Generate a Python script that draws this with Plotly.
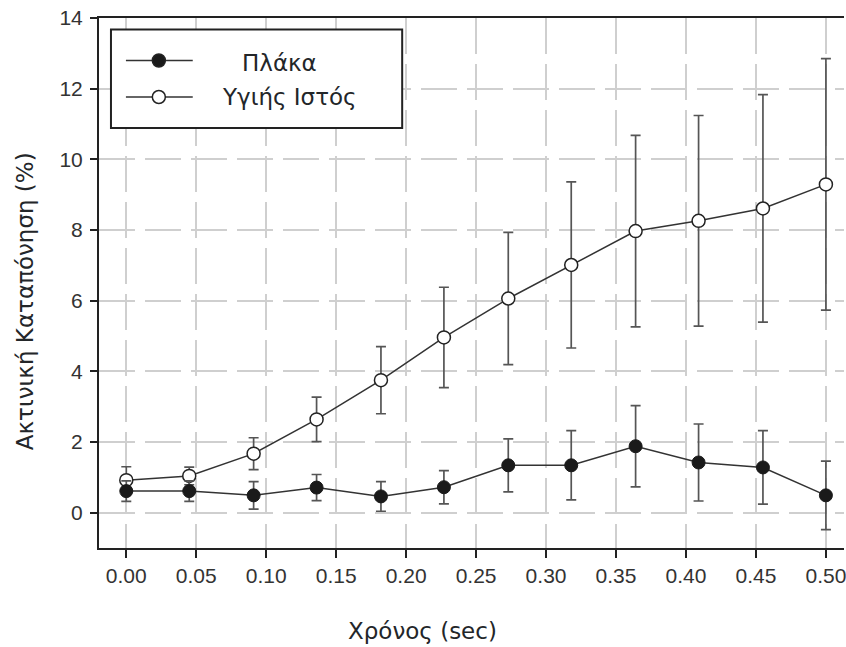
import plotly.graph_objects as go

# Time samples (s)
time_s = [0.000, 0.045, 0.091, 0.136, 0.182, 0.227, 0.273, 0.318, 0.364, 0.409, 0.455, 0.500]

# Radial strain (%) mean and error for each tissue type
series_names = ["Πλάκα", "Υγιής Ιστός"]
plaque = [0.61, 0.61, 0.49, 0.71, 0.46, 0.72, 1.34, 1.34, 1.88, 1.42, 1.28, 0.49]
plaque_err = [0.29, 0.29, 0.39, 0.37, 0.42, 0.47, 0.75, 0.98, 1.15, 1.09, 1.04, 0.97]
healthy = [0.92, 1.04, 1.67, 2.64, 3.75, 4.96, 6.06, 7.01, 7.97, 8.26, 8.61, 9.29]
healthy_err = [0.38, 0.25, 0.45, 0.63, 0.95, 1.42, 1.87, 2.35, 2.71, 2.98, 3.22, 3.56]

x_ticks = [0.00, 0.05, 0.10, 0.15, 0.20, 0.25, 0.30, 0.35, 0.40, 0.45, 0.50]
x_tick_labels = ["0.00", "0.05", "0.10", "0.15", "0.20", "0.25", "0.30", "0.35", "0.40", "0.45", "0.50"]
y_ticks = [0, 2, 4, 6, 8, 10, 12, 14]
y_tick_labels = ["0", "2", "4", "6", "8", "10", "12", "14"]

x_title = "Χρόνος (sec)"
y_title = "Ακτινική Καταπόνηση (%)"

W, H = 846, 647
ML, MR, MT, MB = 99, 0, 18, 99
PW, PH = W - ML - MR, H - MT - MB

TEXT = "#232629"
AXIS = "#222222"
LINE = "#333333"
ERR = "#555555"
GRID = "#cfcfcf"
TICK_FONT = dict(family="Liberation Sans, Arial, sans-serif", size=21, color="#333333")
LABEL_FONT = dict(family="DejaVu Sans, sans-serif", size=23, color=TEXT)


def px_x(px):
    return (px - ML) / PW


def px_y(py):
    return (H - MB - py) / PH


fig = go.Figure()

fig.add_trace(go.Scatter(
    x=time_s, y=healthy, name=series_names[1], mode="lines+markers",
    line=dict(color=LINE, width=1.5),
    marker=dict(symbol="circle", size=13, color="white", line=dict(color=AXIS, width=1.5)),
    error_y=dict(type="data", array=healthy_err, visible=True, color=ERR, thickness=1.7, width=5),
))
fig.add_trace(go.Scatter(
    x=time_s, y=plaque, name=series_names[0], mode="lines+markers",
    line=dict(color=LINE, width=1.5),
    marker=dict(symbol="circle", size=13, color="#1a1a1a", line=dict(color="#1a1a1a", width=1)),
    error_y=dict(type="data", array=plaque_err, visible=True, color=ERR, thickness=1.7, width=5),
))

# Hand-drawn key box in the upper left corner
shapes = [
    dict(type="rect", xref="paper", yref="paper",
         x0=px_x(111), x1=px_x(403), y0=px_y(128), y1=px_y(29.5),
         line=dict(color=AXIS, width=2), fillcolor="white", layer="above"),
]
key_rows = [
    (60.5, "#1a1a1a", series_names[0], 280, 63),
    (97, "white", series_names[1], 290, 97),
]
annotations = []
for ly, fill, label, tx, ty in key_rows:
    shapes.append(dict(type="line", xref="paper", yref="paper",
                       x0=px_x(126), x1=px_x(193), y0=px_y(ly), y1=px_y(ly),
                       line=dict(color=LINE, width=1.5), layer="above"))
    shapes.append(dict(type="circle", xref="paper", yref="paper",
                       xsizemode="pixel", ysizemode="pixel",
                       xanchor=px_x(159), yanchor=px_y(ly),
                       x0=-6.5, x1=6.5, y0=-6.5, y1=6.5,
                       fillcolor=fill, line=dict(color=AXIS, width=1.5), layer="above"))
    annotations.append(dict(xref="paper", yref="paper", x=px_x(tx), y=px_y(ty),
                            text=label, showarrow=False, xanchor="center", yanchor="middle",
                            font=LABEL_FONT))

# Axis titles
annotations.append(dict(xref="paper", yref="paper", x=px_x(423), y=px_y(631),
                        text=x_title, showarrow=False, xanchor="center", yanchor="middle",
                        font=LABEL_FONT))
annotations.append(dict(xref="paper", yref="paper", x=px_x(25), y=px_y(301),
                        text=y_title, showarrow=False, xanchor="center", yanchor="middle",
                        textangle=-90, font=LABEL_FONT))

fig.update_layout(
    width=W, height=H,
    margin=dict(l=ML, r=MR, t=MT, b=MB, pad=0),
    paper_bgcolor="white", plot_bgcolor="white",
    showlegend=False,
    shapes=shapes, annotations=annotations,
)

fig.update_xaxes(
    range=[-0.0195, -0.0195 + PW / 1403.0],
    tickmode="array", tickvals=x_ticks, ticktext=x_tick_labels,
    ticks="outside", ticklen=8, tickwidth=1.5, tickcolor=AXIS,
    tickfont=TICK_FONT, ticklabeloverflow="allow",
    showline=True, linecolor=AXIS, linewidth=2, mirror=True,
    showgrid=True, gridcolor=GRID, gridwidth=1.5, griddash="36px,10px",
    zeroline=False,
)
fig.update_yaxes(
    range=[-1, 14],
    tickmode="array", tickvals=y_ticks, ticktext=y_tick_labels,
    ticks="outside", ticklen=7, tickwidth=1.5, tickcolor=AXIS,
    tickfont=TICK_FONT, ticklabelstandoff=3,
    showline=True, linecolor=AXIS, linewidth=2,
    showgrid=True, gridcolor=GRID, gridwidth=1.5, griddash="36px,10px",
    zeroline=False,
)

fig.write_html("out.html")
